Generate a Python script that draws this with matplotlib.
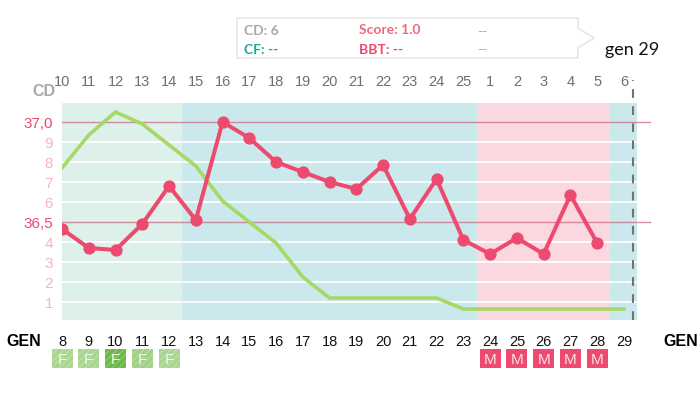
from matplotlib import pyplot as plt
from matplotlib.patches import Polygon, Rectangle

plt.rcParams['hatch.linewidth'] = 0.6

# cycle dates and cycle days
dates = list(range(8, 30))
cycle_days = [10, 11, 12, 13, 14, 15, 16, 17, 18, 19, 20, 21, 22, 23, 24, 25, 1, 2, 3, 4, 5, 6]
grid_levels = [1, 2, 3, 4, 5, 6, 7, 8, 9, 10]
left_labels = ['1', '2', '3', '4', '36,5', '6', '7', '8', '9', '37,0']

# temperature curve (pink), on the grid scale
bbt_dates = list(range(8, 29))
bbt = [4.65, 3.7, 3.6, 4.9, 6.8, 5.1, 10, 9.2, 8, 7.5, 7, 6.65, 7.85, 5.15, 7.15, 4.1, 3.4, 4.2, 3.4, 6.35, 3.95]
# fertility curve (green)
fert = [7.7, 9.35, 10.5, 9.9, 8.85, 7.8, 6.05, 5, 3.95, 2.25, 1.2, 1.2, 1.2, 1.2, 1.2, 0.65, 0.65, 0.65, 0.65, 0.65, 0.65, 0.65]

# phases
phases = [(8, 12.47, '#DDF0EA'), (12.47, 23.5, '#CBE9EC'), (23.5, 28.47, '#FBD7E0'), (28.47, 29.47, '#CBE9EC')]
f_days = [8, 9, 10, 11, 12]
f_colors = ['#A9D68F', '#A9D68F', '#6DB84A', '#A0D186', '#A9D68F']
m_days = [24, 25, 26, 27, 28]

PINK = '#EC4A6E'
GREEN = '#A6D964'
FONT = 'Liberation Sans'
W, H = 700, 394

fig = plt.figure(figsize=(7, 3.94), dpi=100)
x0, x1 = 62, 636.5
y0, y1 = 320, 103
ax = fig.add_axes([x0 / W, 1 - y0 / H, (x1 - x0) / W, (y0 - y1) / H])
ax.set_xlim(8, 29.47)
ax.set_ylim(0.1, 10.95)

for a, b, c in phases:
    ax.axvspan(a, b, color=c, lw=0, zorder=0)
for g in grid_levels:
    if g in (5, 10):
        ax.plot([8, 29.97], [g, g], color='#C8637E', alpha=0.7, lw=1, zorder=1, clip_on=False)
    else:
        ax.axhline(g, color='white', lw=1.3, zorder=1)

ax.plot(dates, fert, color=GREEN, lw=2.6, zorder=2, solid_joinstyle='miter')
ax.plot(bbt_dates, bbt, color=PINK, lw=2.9, marker='o', ms=7.8, zorder=3)
ax.plot([29.33, 29.33], [0.1, 12.1], color='#6E7476', lw=1.5, ls=(0, (4.2, 4)), zorder=4, clip_on=False)

for s in ax.spines.values():
    s.set_visible(False)

# bottom dates
ax.set_xticks(dates)
ax.set_xticklabels(dates, fontfamily=FONT, fontsize=10.5, color='#111111')
ax.tick_params(axis='x', length=0, pad=11)

# top cycle days
top = ax.secondary_xaxis('top')
top.set_xticks(dates)
top.set_xticklabels(cycle_days, fontfamily=FONT, fontsize=10.5, color='#6F6F6F')
top.tick_params(axis='x', length=0, pad=10)
for s in top.spines.values():
    s.set_visible(False)

# left scale
ax.set_yticks(grid_levels)
ax.set_yticklabels(left_labels, fontfamily=FONT, fontsize=11, color='#F4B4C6')
ax.tick_params(axis='y', length=0, pad=6.5)
for lab, g in zip(ax.get_yticklabels(), grid_levels):
    if g in (5, 10):
        lab.set_color(PINK)

# overlay in picture pixels for tooltip and badges
ov = fig.add_axes([0, 0, 1, 1], facecolor='none')
ov.set_xlim(0, W)
ov.set_ylim(H, 0)
ov.axis('off')

ov.add_patch(Polygon([(237, 18), (578, 18), (578, 28), (594, 38), (578, 48), (578, 58), (237, 58)],
                     fc='white', ec='#E6E6E6', lw=1.2))
tip = dict(family='Lato', fontsize=10, fontweight='bold', va='center')
ov.text(244, 31, 'CD: 6', color='#A8A8A8', **tip)
ov.text(244, 50, 'CF: --', color='#1AA79C', **tip)
ov.text(359, 30, 'Score: 1.0', color='#EF6A80', **tip)
ov.text(359, 50, 'BBT: --', color=PINK, **tip)
ov.text(477, 32, '--', color='#EF8A9C', family='Lato', fontsize=10, va='center')
ov.text(477, 50, '--', color='#EF8A9C', family='Lato', fontsize=10, va='center')
ov.text(605, 50, 'gen 29', color='#111111', family='Lato', fontsize=13, va='center')

ov.text(32, 91, 'CD', color='#A8A8A8', family=FONT, fontsize=11.5, fontweight='bold', va='center')
ov.text(6, 341, 'GEN', color='#000000', family=FONT, fontsize=11.5, fontweight='bold', va='center')
ov.text(663, 341, 'GEN', color='#000000', family=FONT, fontsize=11.5, fontweight='bold', va='center')

# F and M badges, placed along the date axis
xpx = lambda d: x0 + (d - 8) * (x1 - x0) / (29.47 - 8)
for d, c in zip(f_days, f_colors):
    ov.add_patch(Rectangle((xpx(d) - 10.5, 349), 21, 18.5, fc=c, ec='#FFFFFF50', lw=0, hatch='/////'))
    ov.text(xpx(d), 360, 'F', color='#F2F8EC', family=FONT, fontsize=11, ha='center', va='center')
for d in m_days:
    ov.add_patch(Rectangle((xpx(d) - 10.5, 349), 21, 18.5, fc=PINK, ec='none'))
    ov.text(xpx(d), 360, 'M', color='#FBE3E8', family=FONT, fontsize=11, ha='center', va='center')

fig.savefig('out.png', dpi=100)
